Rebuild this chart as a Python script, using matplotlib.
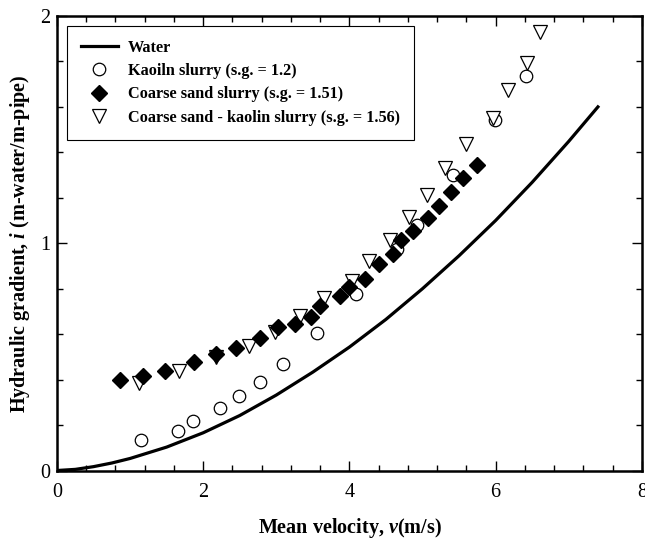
import numpy as np
import matplotlib.pyplot as plt
from matplotlib.ticker import MultipleLocator

plt.rcParams['font.family'] = ['Liberation Serif', 'DejaVu Serif']
plt.rcParams['mathtext.fontset'] = 'custom'
plt.rcParams['mathtext.it'] = 'Liberation Serif:italic:bold'

# Water (clear water friction line)
water_v = [0.0, 0.25, 0.5, 0.75, 1.0, 1.5, 2.0, 2.5, 3.0, 3.5, 4.0, 4.5, 5.0, 5.5,
           6.0, 6.5, 7.0, 7.4]
water_i = [0.0, 0.005, 0.017, 0.033, 0.053, 0.103, 0.166, 0.242, 0.332, 0.433, 0.543,
           0.665, 0.800, 0.945, 1.100, 1.268, 1.448, 1.600]

# Kaolin slurry (s.g. = 1.2)
kaolin_v = [1.15, 1.66, 1.86, 2.23, 2.49, 2.78, 3.09, 3.56, 4.09, 4.65, 4.93, 5.42, 5.99, 6.42]
kaolin_i = [0.134, 0.175, 0.219, 0.275, 0.327, 0.390, 0.470, 0.605, 0.776, 0.975, 1.080,
            1.300, 1.543, 1.737]

# Coarse sand slurry (s.g. = 1.51)
sand_v = [0.86, 1.18, 1.48, 1.87, 2.18, 2.45, 2.78, 3.03, 3.25, 3.47, 3.60, 3.87,
          4.00, 4.22, 4.41, 4.59, 4.70, 4.87, 5.07, 5.23, 5.39, 5.56, 5.75]
sand_i = [0.398, 0.415, 0.439, 0.479, 0.512, 0.541, 0.583, 0.630, 0.645, 0.675, 0.725,
          0.767, 0.809, 0.842, 0.910, 0.952, 1.013, 1.055, 1.111, 1.164, 1.225, 1.288, 1.346]

# Coarse sand - kaolin slurry (s.g. = 1.56)
mix_v = [1.12, 1.67, 2.18, 2.63, 2.98, 3.32, 3.65, 4.04, 4.27, 4.55, 4.82, 5.06, 5.31,
         5.59, 5.96, 6.17, 6.43, 6.61]
mix_i = [0.383, 0.437, 0.500, 0.550, 0.608, 0.682, 0.758, 0.832, 0.924, 1.013, 1.116,
         1.214, 1.333, 1.438, 1.550, 1.673, 1.792, 1.929]

fig = plt.figure(figsize=(6.45, 5.4), dpi=100)
ax = fig.add_axes([0.0884, 0.1287, 0.9066, 0.8417])

ax.plot(water_v, water_i, color='black', lw=2.3, label='Water', zorder=2)
ax.plot(kaolin_v, kaolin_i, 'o', ms=9, mfc='white', mec='black', mew=0.9,
        label='Kaoiln slurry (s.g. = 1.2)', zorder=3)
ax.plot(sand_v, sand_i, 'D', ms=8, mfc='black', mec='black',
        label='Coarse sand slurry (s.g. = 1.51)', zorder=4)
ax.plot(mix_v, mix_i, 'v', ms=9.5, mfc='white', mec='black', mew=0.9,
        label='Coarse sand - kaolin slurry (s.g. = 1.56)', zorder=3)

ax.set_xlim(0, 8)
ax.set_ylim(0, 2)
ax.xaxis.set_major_locator(MultipleLocator(2))
ax.xaxis.set_minor_locator(MultipleLocator(0.4))
ax.yaxis.set_major_locator(MultipleLocator(1))
ax.yaxis.set_minor_locator(MultipleLocator(0.2))
ax.tick_params(which='both', direction='in', top=True, right=True, width=1)
ax.tick_params(which='major', length=7, labelsize=14.5)
ax.tick_params(axis='x', which='major', pad=9)
ax.tick_params(axis='y', which='major', pad=5)
ax.tick_params(which='minor', length=4)
for s in ax.spines.values():
    s.set_linewidth(1.8)

ax.set_xlabel(r'Mean velocity, $\mathit{v}$(m/s)', fontsize=14.5, fontweight='bold', labelpad=10)
ax.set_ylabel(r'Hydraulic gradient, $\mathit{i}$ (m-water/m-pipe)', fontsize=14.5,
              fontweight='bold', labelpad=6)

leg = ax.legend(loc='upper left', bbox_to_anchor=(0.017, 0.978), borderaxespad=0,
                fancybox=False, edgecolor='black', framealpha=1, handlelength=2.3,
                handletextpad=0.6, labelspacing=0.45, borderpad=0.85,
                prop={'weight': 'bold', 'size': 11.7})
leg.get_frame().set_linewidth(0.8)

plt.savefig('out.png', dpi=100)
